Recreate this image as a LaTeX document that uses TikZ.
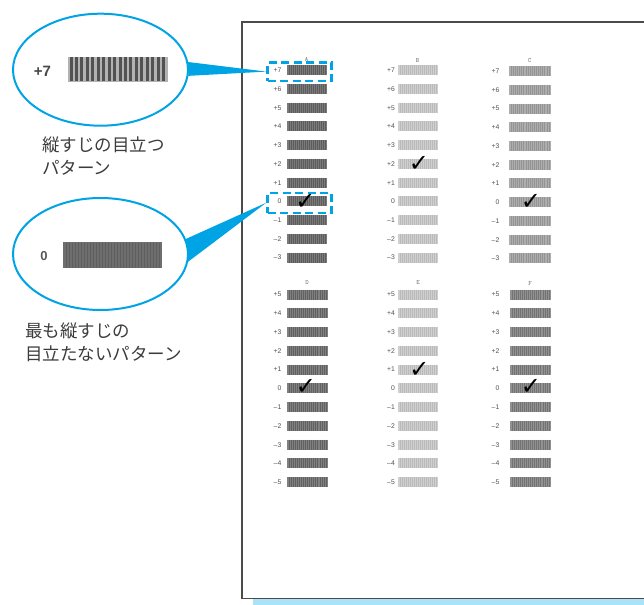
\documentclass[tikz,border=0pt]{standalone}
\usepackage{fontspec}
\setmainfont{Liberation Sans}
\newfontfamily\jpfont{Noto Sans CJK JP}
\newfontfamily\symfont{DejaVu Sans}
\usetikzlibrary{shapes.geometric,patterns.meta}
\definecolor{callout}{RGB}{0,163,228}
\definecolor{shadowblue}{RGB}{170,226,248}
\definecolor{framegray}{RGB}{75,75,75}
\definecolor{labgray}{RGB}{80,80,80}
\definecolor{txtgray}{RGB}{60,60,60}
\tikzset{
  rowlab/.style={anchor=east,inner sep=0pt,text=labgray,font=\fontsize{6.8}{6.8}\selectfont},
  collab/.style={inner sep=0pt,text=labgray!80,font=\ttfamily\fontsize{6.5}{6.5}\selectfont},
  barbase/.style={rectangle,inner sep=0pt,outer sep=0pt,minimum height=10pt},
  stripe/.style={line width=0.55pt},
  checkmark/.style={inner sep=0pt,font=\symfont\fontsize{24}{24}\selectfont},
  bubble/.style={ellipse,draw=callout,line width=2pt,fill=white,inner sep=0pt},
  hibox/.style={rectangle,draw=callout,line width=2.4pt,dash pattern=on 8pt off 4.5pt,inner sep=0pt},
  tail/.style={fill=callout},
  jptext/.style={anchor=base west,align=left,inner sep=0pt,text=txtgray,font=\jpfont\fontsize{17.5}{22.5}\selectfont},
  frameline/.style={draw=framegray,line width=1.4pt}
}
% #1 name, #2 cx, #3 cy, #4 width, #5 fill colour, #6 stripe colour
\newcommand\mybar[6]{%
  \node[barbase,minimum width=#4pt,fill=#5] (#1) at (#2,#3) {};
  \foreach \k in {1,...,19} {\draw[stripe,#6] ({#2-#4/2+#4*\k/20},{#3-5}) -- ++(0,10);}
}
\begin{document}
\begin{tikzpicture}[x=1pt,y=-1pt]
\useasboundingbox (0,0) rectangle (644,604);
\clip (0,0) rectangle (644,604);
\fill[white] (0,0) rectangle (644,604);

% page shadow and frame
\fill[shadowblue] (253,598.5) rectangle (650,605);
\draw[frameline] (650,22) -- (242,22) -- (242,598.5) -- (650,598.5);

% column letters
\node[collab] (lA) at (306.5,59) {A};
\node[collab] (lB) at (417.5,60.5) {B};
\node[collab] (lC) at (529.5,60.5) {C};
\node[collab] (lD) at (307,283) {D};
\node[collab] (lE) at (418,283) {E};
\node[collab] (lF) at (530,284) {F};

% upper group
\foreach \lab [count=\i from 0] in {+7,+6,+5,+4,+3,+2,+1,0,–1,–2,–3} {
  \pgfmathsetmacro\yy{70.3+18.73*\i}
  \pgfmathsetmacro\yc{\yy+0.8}
  \node[rowlab] (ta\i) at (281.5,\yy) {\lab};
  \mybar{A\i}{307}{\yy}{40}{black!52}{black!64}
  \node[rowlab] (tb\i) at (395,\yy) {\lab};
  \mybar{B\i}{418}{\yy}{40}{black!19}{black!27}
  \node[rowlab] (tc\i) at (499.5,\yc) {\lab};
  \mybar{C\i}{530}{\yc}{42}{black!32}{black!42}
}
% lower group
\foreach \lab [count=\i from 0] in {+5,+4,+3,+2,+1,0,–1,–2,–3,–4,–5} {
  \pgfmathsetmacro\yy{294.5+18.77*\i}
  \node[rowlab] (td\i) at (281.5,\yy) {\lab};
  \mybar{D\i}{307.5}{\yy}{41}{black!50}{black!62}
  \node[rowlab] (te\i) at (395,\yy) {\lab};
  \mybar{E\i}{418}{\yy}{40}{black!19}{black!27}
  \node[rowlab] (tf\i) at (499.5,\yy) {\lab};
  \mybar{F\i}{530.5}{\yy}{41}{black!43}{black!55}
}

% check marks
\node[checkmark] (kA) at (305.5,202) {✓};
\node[checkmark] (kB) at (419,163.5) {✓};
\node[checkmark] (kC) at (531,201.5) {✓};
\node[checkmark] (kD) at (306,387) {✓};
\node[checkmark] (kE) at (419.5,369.5) {✓};
\node[checkmark] (kF) at (531,386.5) {✓};

% highlight boxes
\node[hibox,minimum width=64pt,minimum height=18.5pt] (h1) at (299.5,71.6) {};
\node[hibox,minimum width=64pt,minimum height=20pt] (h2) at (299.5,202.7) {};

% callout bubbles
\node[bubble,minimum width=175pt,minimum height=112pt] (e1) at (100.5,69.7) {};
\node[bubble,minimum width=175pt,minimum height=112pt] (e2) at (100.5,254) {};
\fill[tail] (e1.5.5) -- (h1.west) -- (e1.-4.5) -- cycle;
\fill[tail] (e2.10) -- (h2.west) -- (e2.-5) -- cycle;

% bubble contents
\node[inner sep=0pt,text=black!72,font=\bfseries\fontsize{15}{15}\selectfont] (p7) at (42.5,71.5) {+7};
\node[rectangle,inner sep=0pt,minimum width=100pt,minimum height=25pt,fill=black!30] (zb1) at (118,69.5) {};
\foreach \k in {0,...,17} {
  \fill[black!68] ({69.5+5.45*\k},57.5) rectangle ({72.5+5.45*\k},81.5);
}
\node[inner sep=0pt,text=black!65,font=\bfseries\fontsize{13}{13}\selectfont] (p0) at (44,256.5) {0};
\node[rectangle,inner sep=0pt,minimum width=99pt,minimum height=26pt,fill=black!57] (zb2) at (112.5,255) {};
\foreach \k in {1,...,32} {
  \draw[black!63,line width=0.9pt] ({63+3*\k},242.5) -- ++(0,25);
}

% captions
\node[jptext] (c1) at (42,174.5) {縦すじの目立つ\\パターン};
\node[jptext] (c2) at (25,360) {最も縦すじの\\目立たないパターン};
\end{tikzpicture}
\end{document}
